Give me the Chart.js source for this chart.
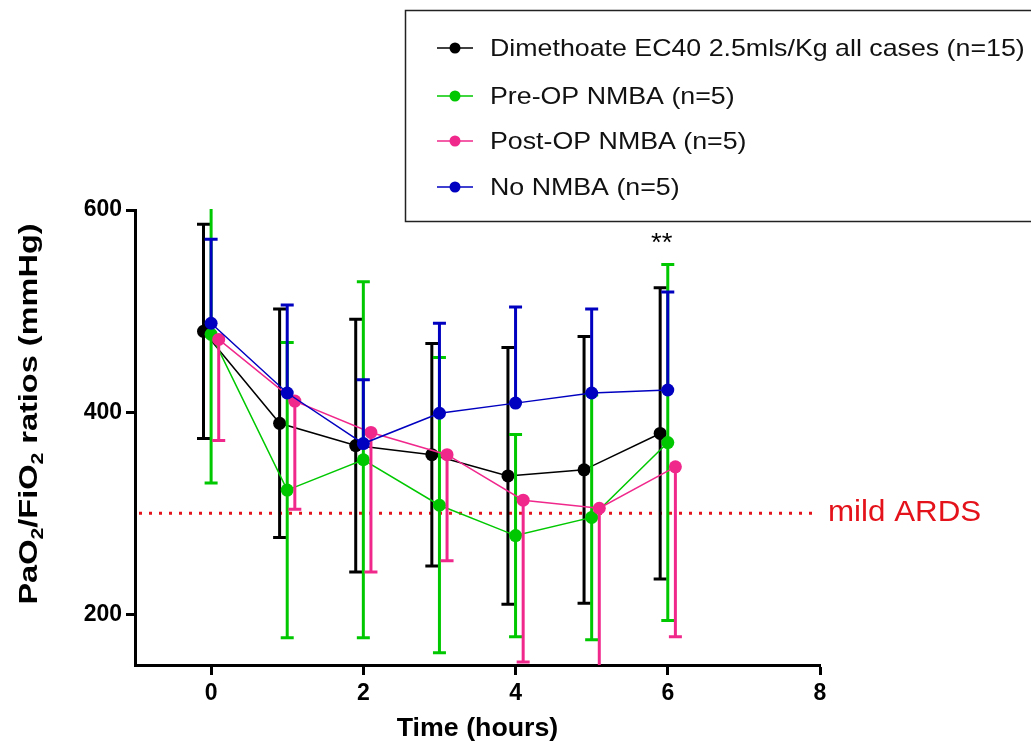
<!DOCTYPE html>
<html>
<head>
<meta charset="utf-8">
<script src="https://cdn.jsdelivr.net/npm/chart.js@4.4.1/dist/chart.umd.min.js"></script>
<style>
    body { margin: 0; background: #fff; }
    #wrap { width: 1031px; height: 742px; position: relative; }
</style>
</head>
<body>
<div id="wrap"><canvas id="paoChart"></canvas></div>
<script>
// ===== DATA =====
const times = [0, 1, 2, 3, 4, 5, 6];

const allMean = [480, 389, 367, 358, 337, 343, 379];
const allSD = [106, 113, 125, 110, 127, 132, 144];

const preMean = [477, 323, 353, 308, 278, 296, 370];
const preSD = [147, 146, 176, 146, 100, 121, 176];

const postMean = [472, 411, 380, 358, 313, 305, 346];
const postSD = [100, 107, 138, 105, 160, 170, 168];

const noMean = [488, 419, 369, 399, 409, 419, 422];
const noSD = [83, 87, 63, 89, 95, 83, 97];

const seriesLabels = [
    "Dimethoate EC40 2.5mls/Kg all cases (n=15)",
    "Pre-OP NMBA (n=5)",
    "Post-OP NMBA (n=5)",
    "No NMBA (n=5)",
];

const xTicks = [0, 2, 4, 6, 8];
const yTicks = [200, 400, 600];
const ardsLevel = 300;
const starTime = 6;
const starValue = 566;

const FONT = "'Liberation Sans', Arial, Helvetica, sans-serif";

// ===== SERIES =====
function makeSeries(label, mean, sd, color, nudge, dir, order) {
    return {
        label: label,
        data: times.map((t, i) => ({ x: t + nudge, y: mean[i] })),
        sd: sd,
        errDir: dir,
        borderColor: color,
        backgroundColor: color,
        borderWidth: 1.5,
        pointRadius: 6.5,
        pointHoverRadius: 6.5,
        pointBorderWidth: 0,
        pointBackgroundColor: color,
        showLine: true,
        tension: 0,
        order: order,
    };
}

const colors = ["#000000", "#00c800", "#f0288c", "#0000c0"];

const datasets = [
    makeSeries(seriesLabels[0], allMean, allSD, colors[0], -0.1, "both", 4),
    makeSeries(seriesLabels[1], preMean, preSD, colors[1], 0, "both", 3),
    makeSeries(seriesLabels[2], postMean, postSD, colors[2], 0.1, "down", 2),
    makeSeries(seriesLabels[3], noMean, noSD, colors[3], 0, "up", 1),
];

// text is a bit wide in the original figure, so stretch along the baseline
function wideText(ctx, text, x, y, sx, align) {
    ctx.save();
    ctx.translate(x, y);
    ctx.scale(sx, 1);
    ctx.textAlign = align;
    ctx.fillText(text, 0, 0);
    ctx.restore();
}

// ===== PLUGINS =====
const errorBars = {
    id: "errorBars",
    beforeDatasetDraw(chart, args) {
        const ds = chart.data.datasets[args.index];
        const xs = chart.scales.x;
        const ys = chart.scales.y;
        const area = chart.chartArea;
        const ctx = chart.ctx;
        ctx.save();
        ctx.beginPath();
        ctx.rect(area.left, area.top - 1, area.right - area.left, area.bottom - area.top + 1);
        ctx.clip();
        ctx.strokeStyle = ds.borderColor;
        ctx.lineWidth = 3;
        const cap = 6.5;
        ds.data.forEach((p, i) => {
            const px = xs.getPixelForValue(p.x);
            const pm = ys.getPixelForValue(p.y);
            const ends = [];
            if (ds.errDir !== "down") ends.push(ys.getPixelForValue(p.y + ds.sd[i]));
            if (ds.errDir !== "up") ends.push(ys.getPixelForValue(p.y - ds.sd[i]));
            ends.forEach((pe) => {
                ctx.beginPath();
                ctx.moveTo(px, pm);
                ctx.lineTo(px, pe);
                ctx.moveTo(px - cap, pe);
                ctx.lineTo(px + cap, pe);
                ctx.stroke();
            });
        });
        ctx.restore();
    },
};

const extras = {
    id: "extras",
    beforeDatasetsDraw(chart) {
        // mild ARDS reference line
        const ctx = chart.ctx;
        const xs = chart.scales.x;
        const ys = chart.scales.y;
        const yp = ys.getPixelForValue(ardsLevel);
        ctx.save();
        ctx.strokeStyle = "#e4131b";
        ctx.lineWidth = 3;
        ctx.setLineDash([3, 7]);
        ctx.beginPath();
        ctx.moveTo(chart.chartArea.left + 4, yp);
        ctx.lineTo(xs.getPixelForValue(8) - 4, yp);
        ctx.stroke();
        ctx.restore();
    },
    afterDraw(chart) {
        const ctx = chart.ctx;
        const xs = chart.scales.x;
        const ys = chart.scales.y;
        const area = chart.chartArea;

        ctx.save();
        // mild ARDS label
        ctx.fillStyle = "#e4131b";
        ctx.font = "29px " + FONT;
        ctx.textBaseline = "middle";
        wideText(ctx, "mild ARDS", area.right + 8, ys.getPixelForValue(ardsLevel), 1.08, "left");

        // significance stars
        ctx.fillStyle = "#000";
        ctx.font = "25px " + FONT;
        wideText(ctx, "**", xs.getPixelForValue(starTime) - 6, ys.getPixelForValue(starValue), 1.1, "center");

        // x title
        ctx.font = "bold 25px " + FONT;
        ctx.textBaseline = "alphabetic";
        wideText(ctx, "Time (hours)", (area.left + area.right) / 2, 736, 1.07, "center");

        // y title with subscripts
        const parts = [
            ["PaO", false], ["2", true], ["/FiO", false], ["2", true], [" ratios (mmHg)", false],
        ];
        const big = "bold 26px " + FONT;
        const small = "bold 17px " + FONT;
        let total = 0;
        parts.forEach(([t, sub]) => {
            ctx.font = sub ? small : big;
            total += ctx.measureText(t).width;
        });
        ctx.translate(37, 414);
        ctx.rotate(-Math.PI / 2);
        ctx.scale(1.25, 1);
        ctx.textAlign = "left";
        let cx = -total / 2;
        parts.forEach(([t, sub]) => {
            ctx.font = sub ? small : big;
            ctx.fillText(t, cx, sub ? 6 : 0);
            cx += ctx.measureText(t).width;
        });
        ctx.restore();

        // legend
        ctx.save();
        ctx.strokeStyle = "#222";
        ctx.lineWidth = 1.5;
        ctx.strokeRect(405.5, 10.5, 700, 211);
        const rows = [48, 96, 141, 187];
        ctx.font = "24px " + FONT;
        ctx.textBaseline = "middle";
        datasets.forEach((ds, i) => {
            const y = rows[i];
            ctx.strokeStyle = ds.borderColor;
            ctx.lineWidth = 1.5;
            ctx.beginPath();
            ctx.moveTo(437, y);
            ctx.lineTo(473, y);
            ctx.stroke();
            ctx.fillStyle = ds.borderColor;
            ctx.beginPath();
            ctx.arc(455, y, 5.5, 0, Math.PI * 2);
            ctx.fill();
            ctx.fillStyle = "#111";
            wideText(ctx, ds.label, 490, y + 1, 1.115, "left");
        });
        ctx.restore();
    },
};

// ===== CHART =====
function initChart() {
    const ctx = document.getElementById("paoChart").getContext("2d");
    new Chart(ctx, {
        type: "scatter",
        data: { datasets: datasets },
        options: {
            responsive: true,
            maintainAspectRatio: false,
            animation: false,
            layout: {
                padding: { top: 210, right: 211, bottom: 0, left: 0 },
            },
            plugins: {
                legend: { display: false },
                tooltip: { enabled: false },
            },
            scales: {
                x: {
                    type: "linear",
                    min: -1,
                    max: 8,
                    afterBuildTicks: (s) => {
                        s.ticks = xTicks.map((v) => ({ value: v }));
                    },
                    afterFit: (s) => {
                        s.height = 77;
                    },
                    grid: {
                        display: true,
                        drawOnChartArea: false,
                        drawTicks: true,
                        tickLength: 10,
                        tickWidth: 3,
                        tickColor: "#000",
                    },
                    border: { display: true, color: "#000", width: 3 },
                    ticks: {
                        color: "#000",
                        padding: 5,
                        maxRotation: 0,
                        font: { family: FONT, size: 23, weight: "bold" },
                    },
                },
                y: {
                    type: "linear",
                    min: 150,
                    max: 600,
                    afterBuildTicks: (s) => {
                        s.ticks = yTicks.map((v) => ({ value: v }));
                    },
                    afterFit: (s) => {
                        s.width = 135;
                    },
                    grid: {
                        display: true,
                        drawOnChartArea: false,
                        drawTicks: true,
                        tickLength: 9,
                        tickWidth: 3,
                        tickColor: "#000",
                    },
                    border: { display: true, color: "#000", width: 3 },
                    ticks: {
                        color: "#000",
                        padding: 4,
                        font: { family: FONT, size: 23, weight: "bold" },
                    },
                },
            },
        },
        plugins: [errorBars, extras],
    });
}

document.addEventListener("DOMContentLoaded", initChart);
</script>
</body>
</html>
